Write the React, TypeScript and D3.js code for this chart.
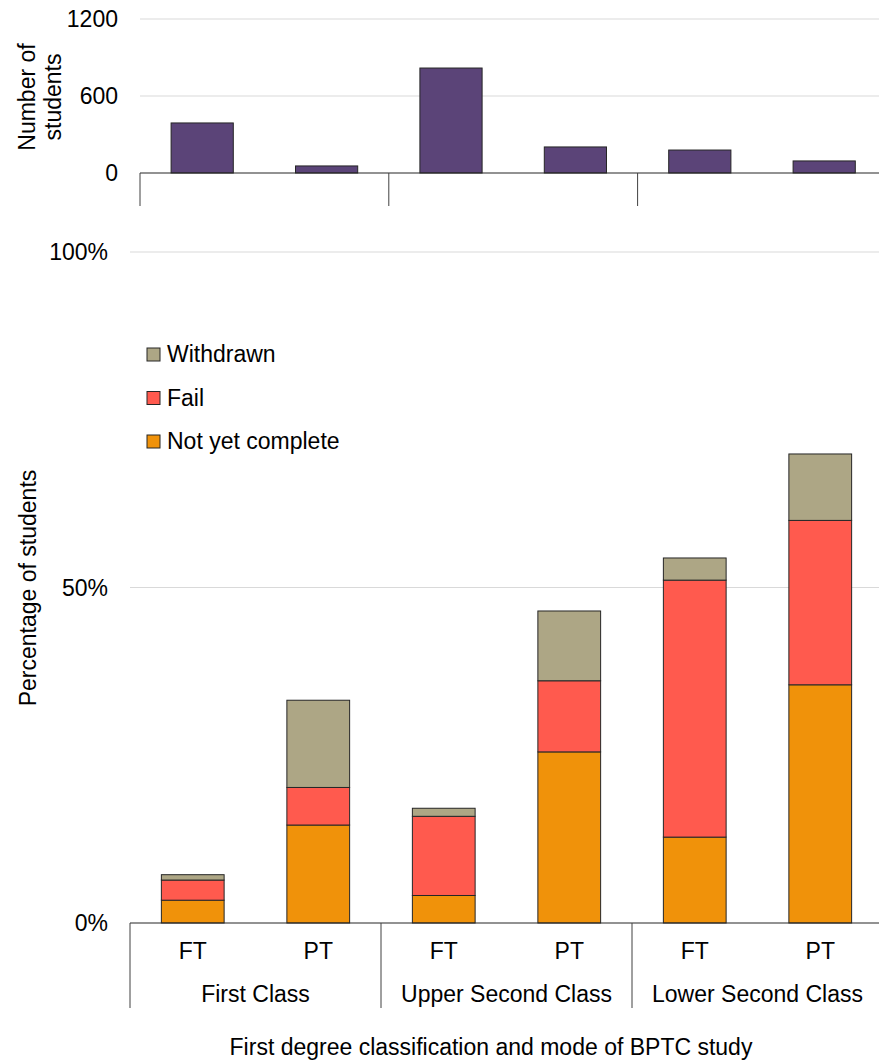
import React from "react";
import * as d3 from "d3";

const groups = ["First Class", "Upper Second Class", "Lower Second Class"];
const modes = ["FT", "PT"];
const studentCounts = [390, 55, 818, 203, 179, 94];
const notYetComplete = [3.4, 14.6, 4.1, 25.5, 12.8, 35.5];
const failPct = [3.0, 5.6, 11.8, 10.6, 38.3, 24.5];
const withdrawnPct = [0.8, 13.0, 1.2, 10.4, 3.3, 9.9];
const countTicks = [0, 600, 1200];
const pctTicks = [0, 50, 100];
const seriesNames = ["Not yet complete", "Fail", "Withdrawn"];
const seriesColors = ["#F0920A", "#FF5A4E", "#ADA685"];

const FONT = "'Liberation Sans', Arial, sans-serif";
const FS = 23;

export default function App() {
  const W = 879, H = 1061;
  const keys = groups.flatMap((g) => modes.map((m) => `${g}|${m}`));

  // top chart
  const xTop = d3.scaleBand<string>().domain(keys).range([140, 886.4]).paddingInner(0.5).paddingOuter(0.25);
  const yTop = d3.scaleLinear().domain([0, 1200]).range([173, 19]);

  // bottom chart
  const xBot = d3.scaleBand<string>().domain(keys).range([130, 883]).paddingInner(0.5).paddingOuter(0.25);
  const yBot = d3.scaleLinear().domain([0, 100]).range([923, 252]);

  const rows = keys.map((k, i) => ({ key: k, nyc: notYetComplete[i], fail: failPct[i], wd: withdrawnPct[i] }));
  const stack = d3.stack<any>().keys(["nyc", "fail", "wd"])(rows);

  const topGroupW = (886.4 - 140) / 3;
  const botGroupW = (883 - 130) / 3;

  return (
    <svg width={W} height={H} style={{ display: "block", position: "absolute", left: 0, top: 0 }} fontFamily={FONT}>
      <rect width={W} height={H} fill="#fff" />
      {/* top gridlines */}
      {countTicks.filter((t) => t > 0).map((t) => (
        <line key={t} x1={140} x2={W} y1={yTop(t)} y2={yTop(t)} stroke="#d9d9d9" strokeWidth={1.2} />
      ))}
      {countTicks.map((t) => (
        <text key={t} x={118} y={yTop(t)} dy="0.35em" textAnchor="end" fontSize={FS} fill="#000">{t}</text>
      ))}
      <text transform={`translate(35,97) rotate(-90)`} textAnchor="middle" fontSize={FS}>Number of</text>
      <text transform={`translate(61,97) rotate(-90)`} textAnchor="middle" fontSize={FS}>students</text>
      {keys.map((k, i) => (
        <rect key={k} x={xTop(k)} y={yTop(studentCounts[i])} width={xTop.bandwidth()} height={yTop(0) - yTop(studentCounts[i])}
          fill="#5B4478" stroke="#262626" strokeWidth={1} />
      ))}
      <line x1={140} x2={W} y1={yTop(0)} y2={yTop(0)} stroke="#262626" strokeWidth={1.2} />
      {[0, 1, 2, 3].map((g) => (
        <line key={g} x1={140 + g * topGroupW} x2={140 + g * topGroupW} y1={yTop(0)} y2={206} stroke="#404040" strokeWidth={1} />
      ))}

      {/* bottom gridlines */}
      {pctTicks.filter((t) => t > 0).map((t) => (
        <line key={t} x1={130} x2={W} y1={yBot(t)} y2={yBot(t)} stroke="#d9d9d9" strokeWidth={1.2} />
      ))}
      {pctTicks.map((t) => (
        <text key={t} x={108} y={yBot(t)} dy="0.35em" textAnchor="end" fontSize={FS}>{t}%</text>
      ))}
      <text transform={`translate(36,588) rotate(-90)`} textAnchor="middle" fontSize={FS}>Percentage of students</text>

      {stack.map((s, si) => (
        <g key={si}>
          {s.map((d: any, i: number) => (
            <rect key={i} x={xBot(keys[i])} y={yBot(d[1])} width={xBot.bandwidth()} height={yBot(d[0]) - yBot(d[1])}
              fill={seriesColors[si]} stroke="#262626" strokeWidth={1} />
          ))}
        </g>
      ))}
      <line x1={130} x2={W} y1={yBot(0)} y2={yBot(0)} stroke="#262626" strokeWidth={1.2} />
      {[0, 1, 2, 3].map((g) => (
        <line key={g} x1={130 + g * botGroupW} x2={130 + g * botGroupW} y1={yBot(0)} y2={1008} stroke="#404040" strokeWidth={1} />
      ))}
      {keys.map((k) => (
        <text key={k} x={(xBot(k) as number) + xBot.bandwidth() / 2} y={951} dy="0.35em" textAnchor="middle" fontSize={FS}>{k.split("|")[1]}</text>
      ))}
      {groups.map((g, gi) => (
        <text key={g} x={130 + (gi + 0.5) * botGroupW} y={994} dy="0.35em" textAnchor="middle" fontSize={FS}>{g}</text>
      ))}
      <text x={491} y={1047} dy="0.35em" textAnchor="middle" fontSize={FS}>First degree classification and mode of BPTC study</text>

      {/* legend */}
      {[2, 1, 0].map((si, li) => (
        <g key={si} transform={`translate(147,${348 + li * 43.5})`}>
          <rect x={0} y={0} width={13} height={13} fill={seriesColors[si]} stroke="#262626" strokeWidth={1} />
          <text x={20} y={14} fontSize={FS}>{seriesNames[si]}</text>
        </g>
      ))}
    </svg>
  );
}
